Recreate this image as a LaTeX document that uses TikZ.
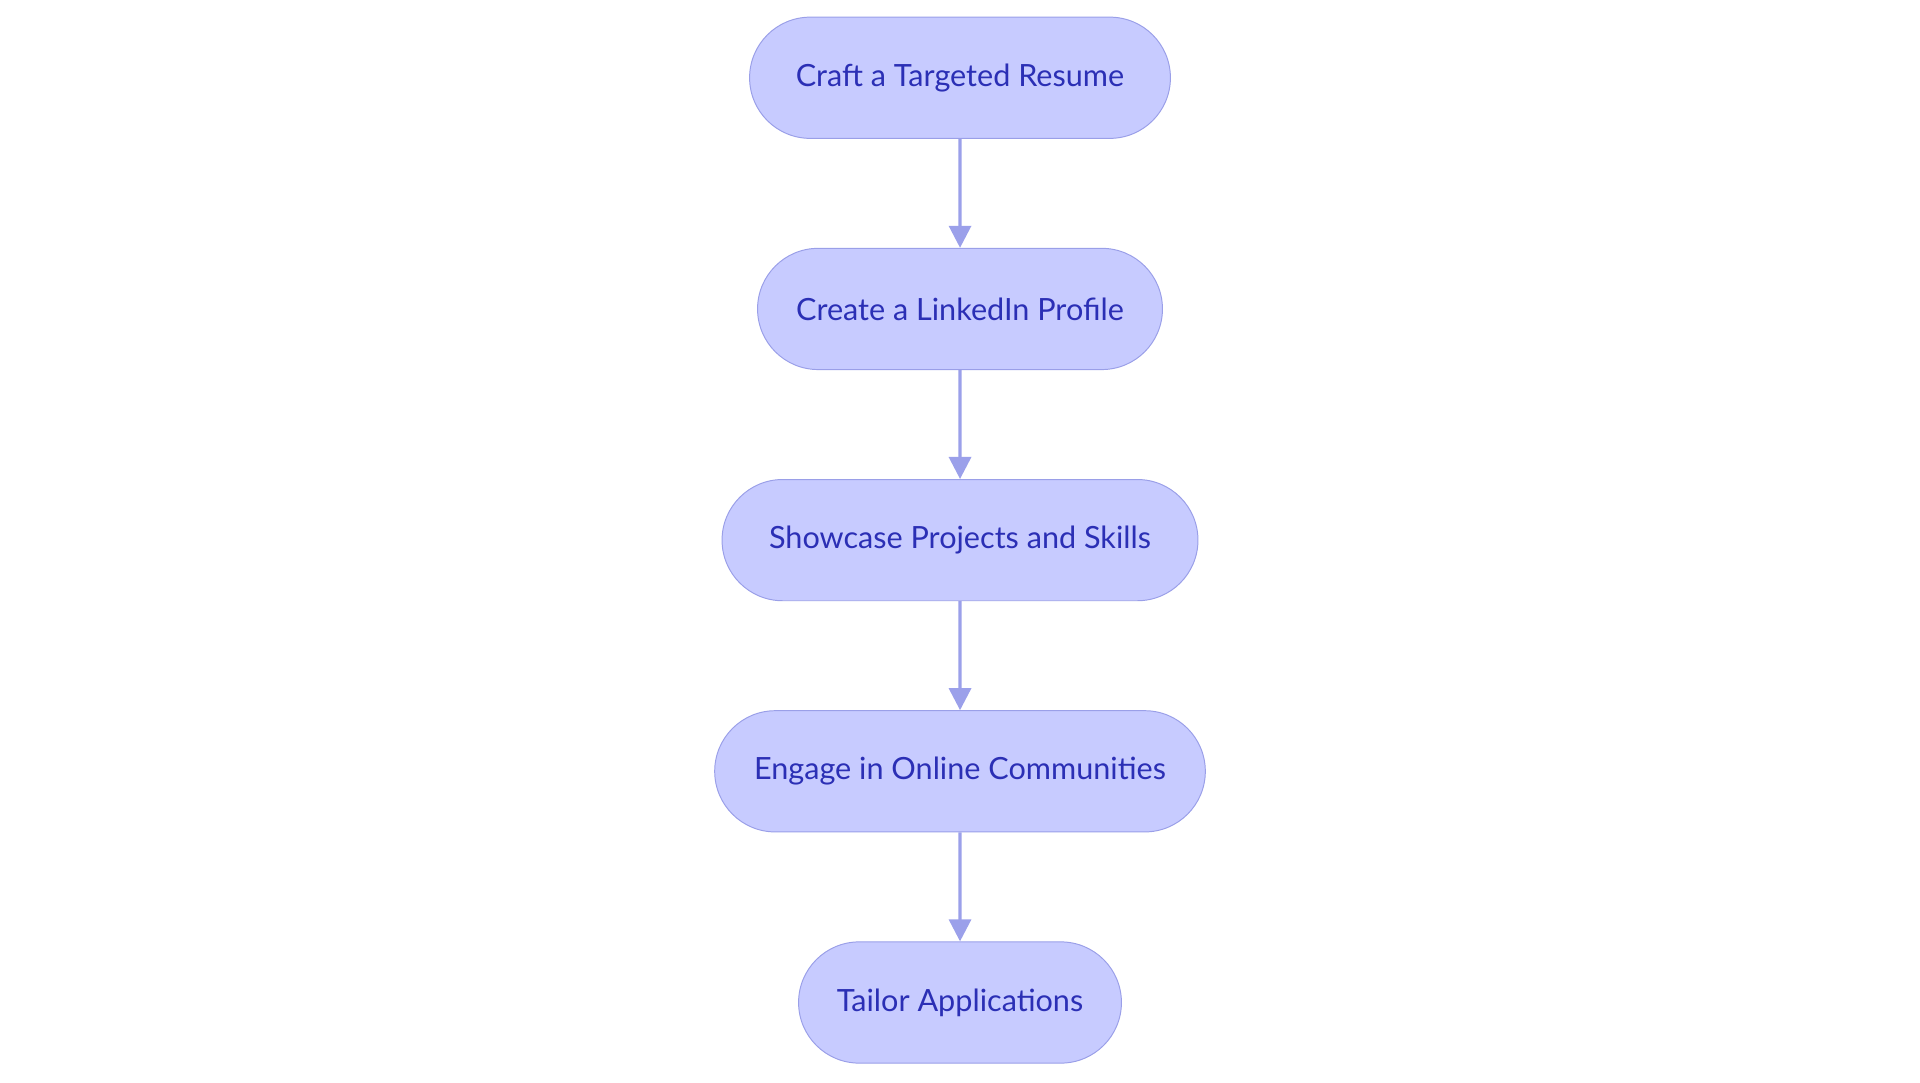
\documentclass[tikz,border=0pt]{standalone}
\usepackage{fontspec}
\setmainfont{Lato}
\usetikzlibrary{shapes.misc, arrows.meta, positioning}
\definecolor{stepfill}{RGB}{199,203,255}
\definecolor{stepdraw}{RGB}{154,159,232}
\definecolor{steptext}{RGB}{43,47,181}
\definecolor{steparrow}{RGB}{155,160,234}

\begin{document}
\begin{tikzpicture}[
    node distance=44.5pt,
    stage/.style={rounded rectangle, minimum height=49.5pt, text centered, draw=stepdraw, fill=stepfill, text=steptext, font=\fontsize{12.5}{15}\selectfont},
    arrow/.style={-{Triangle[length=9pt,width=9pt]}, line width=1.3pt, color=steparrow}
]
\useasboundingbox (0,0) rectangle (784pt,-442pt);

% Steps from top to bottom
\node[stage, minimum width=178.5pt] (resume) at (392pt,-31.75pt) {Craft a Targeted Resume};
\node[stage, minimum width=172pt, below=of resume] (linkedin) {Create a LinkedIn Profile};
\node[stage, minimum width=201pt, below=of linkedin] (showcase) {Showcase Projects and Skills};
\node[stage, minimum width=207pt, below=of showcase] (engage) {Engage in Online Communities};
\node[stage, minimum width=138.5pt, below=of engage] (tailor) {Tailor Applications};

% Arrows
\draw[arrow] (resume) -- (linkedin);
\draw[arrow] (linkedin) -- (showcase);
\draw[arrow] (showcase) -- (engage);
\draw[arrow] (engage) -- (tailor);

\end{tikzpicture}
\end{document}
